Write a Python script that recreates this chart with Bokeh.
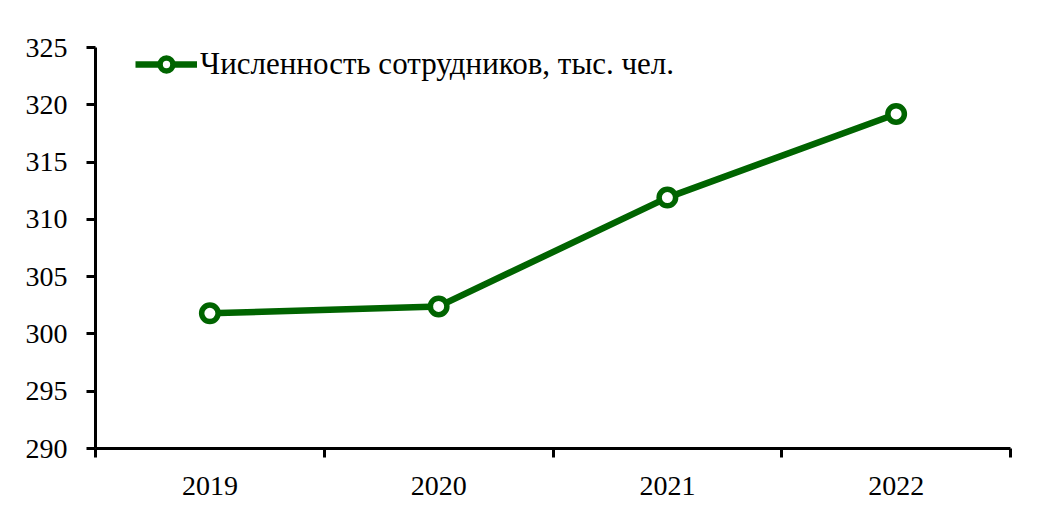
from bokeh.plotting import figure
from bokeh.models import FixedTicker, ColumnDataSource, Legend, LegendItem, Range1d
from bokeh.embed import file_html
from bokeh.resources import INLINE

years = ["2019", "2020", "2021", "2022"]
staff = [301.8, 302.4, 311.9, 319.2]
y_ticks = [290, 295, 300, 305, 310, 315, 320, 325]
series_label = "Численность сотрудников, тыс. чел."

FONT = "Liberation Serif"
GREEN = "#006400"

xpos = [i + 0.5 for i in range(len(years))]
src = ColumnDataSource(dict(x=xpos, y=staff))

p = figure(width=1028, height=499, output_backend="svg", toolbar_location=None,
           x_range=Range1d(0, len(years)), y_range=Range1d(290, 325),
           min_border_left=95, min_border_right=18, min_border_top=47, min_border_bottom=51)
p.outline_line_color = None
p.grid.visible = False

ln = p.line("x", "y", source=src, line_color=GREEN, line_width=6.5)
sc = p.scatter("x", "y", source=src, size=16.5, fill_color="white", line_color=GREEN, line_width=5.5)

xa = p.xaxis[0]
xa.ticker = FixedTicker(ticks=xpos, minor_ticks=list(range(len(years) + 1)))
xa.major_label_overrides = {x: y for x, y in zip(xpos, years)}
xa.major_tick_out = 0
xa.major_tick_in = 0
xa.minor_tick_out = 9
xa.minor_tick_in = 0
xa.minor_tick_line_width = 3
xa.minor_tick_line_color = "black"

ya = p.yaxis[0]
ya.ticker = FixedTicker(ticks=y_ticks)
ya.major_tick_out = 9
ya.major_tick_in = 0
ya.minor_tick_out = 0
ya.minor_tick_in = 0
ya.major_tick_line_width = 3

for ax in (xa, ya):
    ax.axis_line_width = 3
    ax.axis_line_color = "black"
    ax.major_label_text_font = FONT
    ax.major_label_text_font_size = "28px"
    ax.major_label_text_color = "black"
xa.major_label_standoff = 19
ya.major_label_standoff = 19

legend = Legend(items=[LegendItem(label=series_label, renderers=[ln, sc])],
                location=(40, 366), padding=0, margin=0, spacing=0,
                glyph_width=62, glyph_height=32, label_height=32, label_standoff=3,
                label_text_font=FONT, label_text_font_size="31px",
                label_text_color="black",
                background_fill_alpha=0, border_line_alpha=0)
p.add_layout(legend)

open("out.html", "w").write(file_html(p, INLINE))
